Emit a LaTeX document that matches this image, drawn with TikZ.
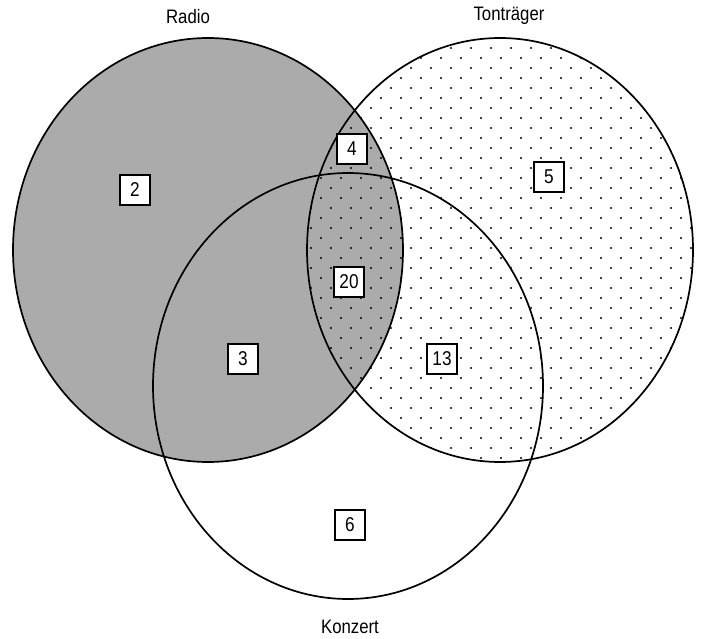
\documentclass[tikz,border=0pt]{standalone}
\usepackage{fontspec}
\setmainfont[FakeStretch=0.86]{Liberation Sans}
\definecolor{radiogray}{RGB}{171,171,171}
\begin{document}
\begin{tikzpicture}[x=1pt,y=-1pt,
  setline/.style={line width=1.7pt},
  numbox/.style={draw,line width=1.9pt,fill=white,minimum width=30pt,minimum height=30pt,inner sep=0pt,font=\fontsize{20}{22}\selectfont},
  setlabel/.style={font=\fontsize{19.5}{22}\selectfont}]
\useasboundingbox (0,0) rectangle (701,639);
% Radio fill
\fill[radiogray] (208,250) ellipse [x radius=195pt, y radius=212pt];
% Tontraeger dots
\begin{scope}
  \clip (500,250) ellipse [x radius=193pt, y radius=212pt];
  \foreach \i in {0,...,20}{
    \foreach \j in {0,...,21}{
      \fill (301+20*\i,38+20*\j) circle [radius=1.05pt];
      \fill (311+20*\i,48+20*\j) circle [radius=1.05pt];
    }
  }
\end{scope}
% outlines
\draw[setline] (208,250) ellipse [x radius=195pt, y radius=212pt];
\draw[setline] (500,250) ellipse [x radius=193pt, y radius=212pt];
\draw[setline] (348,386) ellipse [x radius=195pt, y radius=213pt];
% labels
\node[setlabel] (lradio) at (188,17) {Radio};
\node[setlabel] (lton) at (509,16) {Tonträger};
\node[setlabel] (lkon) at (350,627) {Konzert};
% numbers
\node[numbox] (n2) at (135,190) {2};
\node[numbox] (n4) at (352,149) {4};
\node[numbox] (n5) at (549,177) {5};
\node[numbox] (n20) at (349,282) {20};
\node[numbox] (n3) at (243,359) {3};
\node[numbox] (n13) at (442,359) {13};
\node[numbox] (n6) at (350,525) {6};
\end{tikzpicture}
\end{document}
